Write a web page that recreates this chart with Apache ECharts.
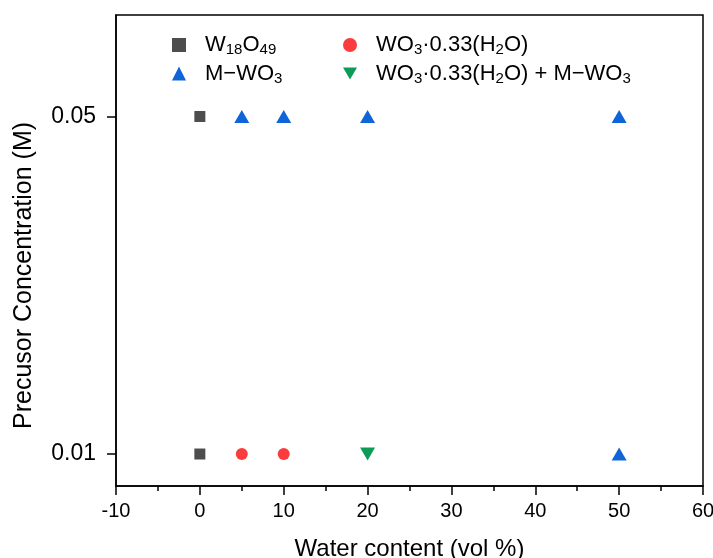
<!DOCTYPE html>
<html><head><meta charset="utf-8">
<script src="https://cdn.jsdelivr.net/npm/echarts@6/dist/echarts.min.js"></script>
<style>html,body{margin:0;padding:0;background:#fff}#c{width:713px;height:558px}</style>
</head><body><div id="c"></div>
<script>
// Data
const seriesNames = ['W18O49', 'M-WO3', 'WO3·0.33(H2O)', 'WO3·0.33(H2O) + M-WO3'];
const xW18O49 = [0, 0];
const yW18O49 = [0.05, 0.01];
const xMWO3 = [5, 10, 20, 50, 50];
const yMWO3 = [0.05, 0.05, 0.05, 0.05, 0.01];
const xHydrate = [5, 10];
const yHydrate = [0.01, 0.01];
const xMixed = [20];
const yMixed = [0.01];
const xTicks = [-10, 0, 10, 20, 30, 40, 50, 60];
const yTicks = [0.01, 0.05];

const pair = (xs, ys) => xs.map((x, i) => [x, ys[i]]);
const FONT = 'Liberation Sans';
const richLabels = {
  'W18O49': 'W{sub|18}O{sub|49}',
  'M-WO3': 'M\u2212WO{sub|3}',
  'WO3·0.33(H2O)': 'WO{sub|3}\u00b70.33(H{sub|2}O)',
  'WO3·0.33(H2O) + M-WO3': 'WO{sub|3}\u00b70.33(H{sub|2}O) + M\u2212WO{sub|3}'
};
const rich = {
  sub: { fontSize: 15, fontFamily: FONT, color: '#000', padding: [10, 0, 0, 0] }
};
const legendCommon = {
  orient: 'vertical', itemWidth: 14, itemHeight: 14, itemGap: 5,
  formatter: n => richLabels[n],
  textStyle: { fontSize: 22, fontFamily: FONT, color: '#000', padding: [0, 0, 0, 14], rich: rich }
};
const invTri = 'path://M0,0L10,0L5,8.66Z';

const chart = echarts.init(document.getElementById('c'));
chart.setOption({
  animation: false,
  grid: { left: 116, right: 10, top: 15, bottom: 72, show: true, borderColor: '#000', borderWidth: 1.5,
    outerBoundsMode: 'none' },
  legend: [
    Object.assign({}, legendCommon, { left: 167, top: 29, data: [
      { name: seriesNames[0], icon: 'rect' }, { name: seriesNames[1], icon: 'triangle' }] }),
    Object.assign({}, legendCommon, { left: 338, top: 29, data: [
      { name: seriesNames[2], icon: 'circle' }, { name: seriesNames[3], icon: invTri }] })
  ],
  xAxis: {
    type: 'value', min: -10, max: 60, interval: 10,
    name: 'Water content (vol %)', nameLocation: 'middle', nameGap: 51,
    nameTextStyle: { fontSize: 24, fontFamily: FONT, color: '#000' },
    axisLine: { show: true, onZero: false, lineStyle: { color: '#000', width: 1.5 } },
    axisTick: { show: true, inside: false, length: 9, lineStyle: { color: '#000', width: 1.5 } },
    minorTick: { show: true, splitNumber: 2, length: 5, lineStyle: { color: '#000', width: 1.5 } },
    axisLabel: { fontSize: 20, fontFamily: FONT, color: '#000', margin: 15 },
    splitLine: { show: false }
  },
  yAxis: {
    type: 'value', min: 0.00621, max: 0.06203,
    name: 'Precusor Concentration (M)', nameLocation: 'middle', nameGap: 79,
    nameTextStyle: { fontSize: 25, fontFamily: FONT, color: '#000', padding: [0, 50, 0, 0] },
    axisLine: { show: true, onZero: false, lineStyle: { color: '#000', width: 1.5 } },
    axisTick: { show: true, inside: false, length: 9, customValues: yTicks, lineStyle: { color: '#000', width: 1.5 } },
    axisLabel: { fontSize: 23, fontFamily: FONT, color: '#000', margin: 20, customValues: yTicks,
      formatter: v => v.toFixed(2) },
    splitLine: { show: false }
  },
  series: [
    { name: seriesNames[0], type: 'scatter', symbol: 'rect', symbolSize: 11,
      itemStyle: { color: '#4d4d4d', opacity: 1 }, data: pair(xW18O49, yW18O49) },
    { name: seriesNames[1], type: 'scatter', symbol: 'triangle', symbolSize: [15, 13],
      itemStyle: { color: '#0f64d8', opacity: 1 }, data: pair(xMWO3, yMWO3) },
    { name: seriesNames[2], type: 'scatter', symbol: 'circle', symbolSize: 12,
      itemStyle: { color: '#fa3c3c', opacity: 1 }, data: pair(xHydrate, yHydrate) },
    { name: seriesNames[3], type: 'scatter', symbol: invTri, symbolSize: [15, 13],
      itemStyle: { color: '#0e9b58', opacity: 1 }, data: pair(xMixed, yMixed) }
  ]
});
</script></body></html>
